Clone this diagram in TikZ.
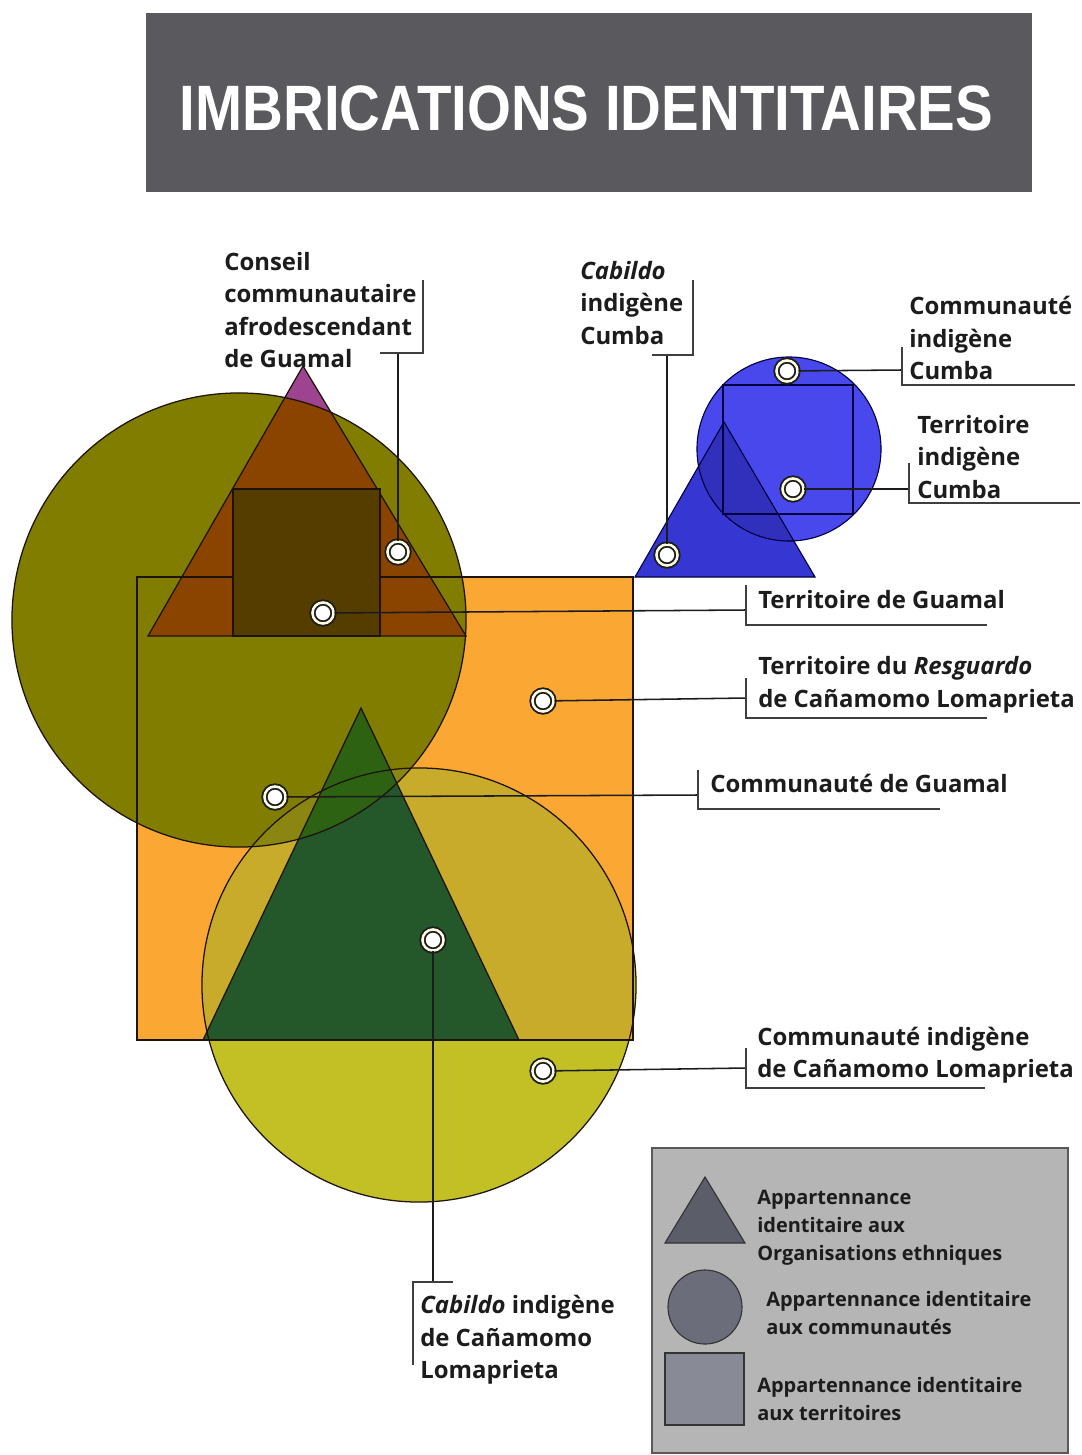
\documentclass[tikz,border=0pt]{standalone}
\usepackage{fontspec}
\setmainfont{Open Sans}
\newfontfamily\titlefont{Liberation Sans}
\usetikzlibrary{calc}
\definecolor{titlegray}{HTML}{5A5A5E}
\definecolor{orangesq}{HTML}{FBA733}
\definecolor{olivec}{HTML}{807D00}
\definecolor{olivemix}{HTML}{8B8612}
\definecolor{yellowc}{HTML}{C2C025}
\definecolor{yellowmix}{HTML}{C8AB2A}
\definecolor{greentri}{HTML}{24582A}
\definecolor{greenmix}{HTML}{2D6212}
\definecolor{purpletri}{HTML}{9E4390}
\definecolor{browntri}{HTML}{8A4400}
\definecolor{innersq}{HTML}{553D00}
\definecolor{bluec}{HTML}{4848EC}
\definecolor{bluetri}{HTML}{3636D2}
\definecolor{bluemix}{HTML}{3030BC}
\definecolor{legbg}{HTML}{B5B5B5}
\definecolor{legtri}{HTML}{5B5E68}
\definecolor{legcirc}{HTML}{6B6E7A}
\definecolor{legsq}{HTML}{888B96}
\definecolor{inkc}{HTML}{1C1C1C}
\newcommand\lblfont{\fontsize{17}{23.1}\selectfont\bfseries}
\newcommand\legfont{\fontsize{14.2}{19.9}\selectfont\bfseries}
\begin{document}
\begin{tikzpicture}[x=0.025cm,y=-0.025cm,
  outl/.style={draw=black!85!brown, line width=0.9pt},
  boutl/.style={draw=black!75!blue, line width=0.8pt},
  pdot/.style={circle, fill=white, draw=inkc, line width=1.3pt, double=white!88!yellow, double distance=1.8pt, minimum size=15pt, inner sep=0pt},
  lead/.style={draw=inkc, line width=1.1pt},
  brk/.style={draw=inkc!85, line width=0.8pt},
  lbl/.style={inner sep=0pt, anchor=west, align=left, font=\lblfont, text=inkc},
  leg/.style={inner sep=0pt, anchor=west, align=left, font=\legfont, text=inkc}]
\useasboundingbox (0,0) rectangle (1082,1455);
\fill[white] (0,0) rectangle (1082,1455);

% title
\node[fill=titlegray, minimum width=22.15cm, minimum height=4.475cm, inner sep=0pt] (titlebox) at (589,102.5) {};
\node[inner sep=0pt, text=white] (title) at (586.5,108) {\resizebox{20.33cm}{1.12cm}{\titlefont\bfseries IMBRICATIONS IDENTITAIRES}};

% ---- main group fills ----
\fill[orangesq] (137,577) rectangle (633,1040);
\fill[yellowc] (419,985) circle[radius=5.425cm];
\begin{scope}
  \clip (137,577) rectangle (633,1040);
  \fill[yellowmix] (419,985) circle[radius=5.425cm];
\end{scope}
\fill[olivec] (239,620) circle[radius=5.675cm];
\begin{scope}
  \clip (239,620) circle[radius=5.675cm];
  \fill[olivemix] (419,985) circle[radius=5.425cm];
\end{scope}
\fill[greentri] (361,708) -- (203,1040) -- (519,1040) -- cycle;
\begin{scope}
  \clip (239,620) circle[radius=5.675cm];
  \fill[greenmix] (361,708) -- (203,1040) -- (519,1040) -- cycle;
\end{scope}
\fill[purpletri] (303,366) -- (148,636) -- (466,636) -- cycle;
\begin{scope}
  \clip (239,620) circle[radius=5.675cm];
  \fill[browntri] (303,366) -- (148,636) -- (466,636) -- cycle;
\end{scope}
% outlines
\draw[outl] (137,577) rectangle (633,1040);
\draw[outl] (239,620) circle[radius=5.675cm];
\draw[outl] (419,985) circle[radius=5.425cm];
\draw[outl] (361,708) -- (203,1040) -- (519,1040) -- cycle;
\draw[outl] (303,366) -- (148,636) -- (466,636) -- cycle;
\fill[innersq] (233,489) rectangle (380,636);
\draw[outl] (233,489) rectangle (380,636);

% ---- blue group ----
\fill[bluec] (789,449) circle[radius=2.3cm];
\fill[bluetri] (724,422) -- (635,577) -- (815,577) -- cycle;
\begin{scope}
  \clip (789,449) circle[radius=2.3cm];
  \fill[bluemix] (724,422) -- (635,577) -- (815,577) -- cycle;
\end{scope}
\draw[boutl] (789,449) circle[radius=2.3cm];
\draw[boutl] (724,422) -- (635,577) -- (815,577) -- cycle;
\draw[boutl] (723,385) rectangle (853,514);

% ---- dots ----
\node[pdot] (d1) at (398,552) {};
\node[pdot] (d2) at (323,613) {};
\node[pdot] (d3) at (543,701) {};
\node[pdot] (d4) at (275,797) {};
\node[pdot] (d5) at (433,940) {};
\node[pdot] (d6) at (543,1071) {};
\node[pdot] (d7) at (667,555) {};
\node[pdot] (d8) at (787,371) {};
\node[pdot] (d9) at (793,489) {};

% ---- labels ----
\node[lbl] (l1) at (224,310) {Conseil\\communautaire\\afrodescendant\\de Guamal};
\node[lbl] (l2) at (758,600) {Territoire de Guamal};
\node[lbl] (l3) at (758,685) {Territoire du \textit{Resguardo}\\de Cañamomo Lomaprieta};
\node[lbl] (l4) at (710,783) {Communauté de Guamal};
\node[lbl] (l5) at (420,1340) {\textit{Cabildo} indigène\\de Cañamomo\\Lomaprieta};
\node[lbl] (l6) at (757,1055) {Communauté indigène\\de Cañamomo Lomaprieta};
\node[lbl] (l7) at (580,303) {\textit{Cabildo}\\indigène\\Cumba};
\node[lbl] (l8) at (909,338) {Communauté\\indigène\\Cumba};
\node[lbl] (l9) at (917,457) {Territoire\\indigène\\Cumba};

% ---- bracket coordinates ----
\coordinate (k1) at (398,353);
\coordinate (k2) at (746,610);
\coordinate (k3) at (746,698);
\coordinate (k4) at (698,795);
\coordinate (k5) at (433,1282);
\coordinate (k6) at (746,1068);
\coordinate (k7) at (667,355);
\coordinate (k8) at (902,370);
\coordinate (k9) at (909,489);

% ---- leader lines ----
\draw[lead] (d1) -- (k1);
\draw[lead] (d2) -- (k2);
\draw[lead] (d3) -- (k3);
\draw[lead] (d4) -- (k4);
\draw[lead] (d5) -- (k5);
\draw[lead] (d6) -- (k6);
\draw[lead] (d7) -- (k7);
\draw[lead] (d8) -- (k8);
\draw[lead] (d9) -- (k9);

% ---- brackets ----
\draw[brk] (380,353) -- (423,353) -- (423,280);
\draw[brk] (746,585) -- (746,625) -- (987,625);
\draw[brk] (746,678) -- (746,718) -- (987,718);
\draw[brk] (698,770) -- (698,809) -- (940,809);
\draw[brk] (453,1282) -- (413,1282) -- (413,1365);
\draw[brk] (746,1048) -- (746,1088) -- (985,1088);
\draw[brk] (652,355) -- (693,355) -- (693,280);
\draw[brk] (902,347) -- (902,385) -- (1075,385);
\draw[brk] (909,463) -- (909,503) -- (1080,503);

% ---- legend ----
\draw[fill=legbg, draw=black!65, line width=0.8pt] (652,1148) rectangle (1068,1453);
\draw[fill=legtri, draw=black!80, line width=0.8pt] (705,1177) -- (665,1243) -- (745,1243) -- cycle;
\draw[fill=legcirc, draw=black!80, line width=0.8pt] (705,1307) circle[radius=0.925cm];
\draw[fill=legsq, draw=black!80, line width=0.8pt] (665,1353) rectangle (744,1425);
\node[leg] (lt1) at (757,1228) {Appartennance\\identitaire aux\\Organisations ethniques};
\node[leg] (lt2) at (766,1313) {Appartennance identitaire\\aux communautés};
\node[leg] (lt3) at (757,1399) {Appartennance identitaire\\aux territoires};
\end{tikzpicture}
\end{document}
